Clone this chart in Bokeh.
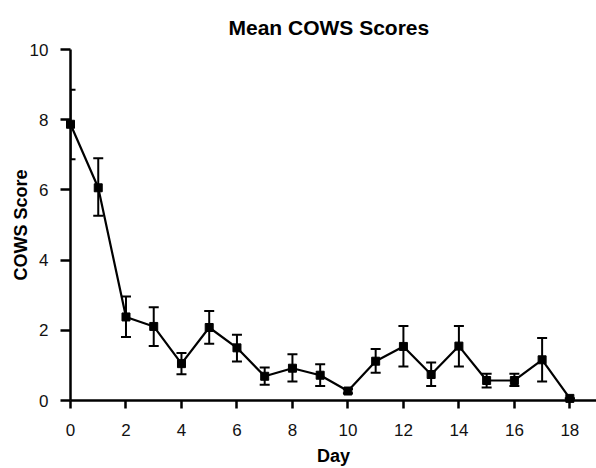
from bokeh.plotting import figure
from bokeh.models import ColumnDataSource, Whisker, TeeHead, Range1d, FixedTicker
from bokeh.embed import file_html
from bokeh.resources import INLINE

days = list(range(19))
means = [7.87, 6.06, 2.38, 2.11, 1.05, 2.08, 1.50, 0.69, 0.92, 0.72, 0.27,
         1.12, 1.54, 0.74, 1.55, 0.57, 0.57, 1.16, 0.06]
upper = [8.85, 6.90, 2.96, 2.66, 1.35, 2.55, 1.87, 0.94, 1.32, 1.03, 0.33,
         1.47, 2.12, 1.08, 2.12, 0.76, 0.76, 1.78, 0.06]
lower = [6.87, 5.26, 1.81, 1.55, 0.75, 1.62, 1.11, 0.45, 0.54, 0.41, 0.21,
         0.79, 0.97, 0.41, 0.97, 0.37, 0.41, 0.54, 0.06]
x_ticks = [0, 2, 4, 6, 8, 10, 12, 14, 16, 18]
y_ticks = [0, 2, 4, 6, 8, 10]

FONT = "Liberation Sans"

src = ColumnDataSource(dict(day=days, mean=means, upper=upper, lower=lower))

p = figure(width=596, height=468, output_backend="svg", toolbar_location=None,
           x_range=Range1d(0, 18.96), y_range=Range1d(0, 10),
           min_border_left=70, min_border_right=0, min_border_top=49,
           min_border_bottom=67)
p.title.text = "Mean COWS Scores"
p.title.align = "left"
p.title.offset = 158
p.title.text_font = FONT
p.title.text_font_size = "21px"
p.title.text_font_style = "bold"
p.title.text_color = "black"
p.title.standoff = 22

p.outline_line_color = None
p.xgrid.visible = False
p.ygrid.visible = False

for ax in (p.xaxis[0], p.yaxis[0]):
    ax.axis_line_width = 2.5
    ax.axis_line_color = "black"
    ax.major_tick_line_width = 2.5
    ax.major_tick_line_color = "black"
    ax.major_tick_in = 0
    ax.minor_tick_line_color = None
    ax.major_label_text_font = FONT
    ax.major_label_text_font_size = "17px"
    ax.major_label_text_color = "#111111"
    ax.axis_label_text_font = FONT
    ax.axis_label_text_font_size = "18px"
    ax.axis_label_text_font_style = "bold"
    ax.axis_label_text_color = "black"

p.xaxis.ticker = FixedTicker(ticks=x_ticks)
p.yaxis.ticker = FixedTicker(ticks=y_ticks)
p.xaxis.major_tick_out = 8
p.yaxis.major_tick_out = 10
p.xaxis.major_label_standoff = 15
p.yaxis.major_label_standoff = 12
p.xaxis.axis_label = "Day"
p.yaxis.axis_label = "COWS Score"
p.xaxis.axis_label_standoff = 7
p.yaxis.axis_label_standoff = -4

w = Whisker(source=src, base="day", upper="upper", lower="lower",
            line_color="black", line_width=2, level="overlay",
            upper_head=TeeHead(size=10, line_color="black", line_width=2),
            lower_head=TeeHead(size=10, line_color="black", line_width=2))
p.add_layout(w)

ln = p.line("day", "mean", source=src, line_color="black", line_width=2.2)
ln.level = "overlay"
sc = p.scatter("day", "mean", source=src, marker="square", size=8,
               fill_color="black", line_color="black")
sc.level = "overlay"

open("out.html", "w").write(file_html(p, INLINE))
